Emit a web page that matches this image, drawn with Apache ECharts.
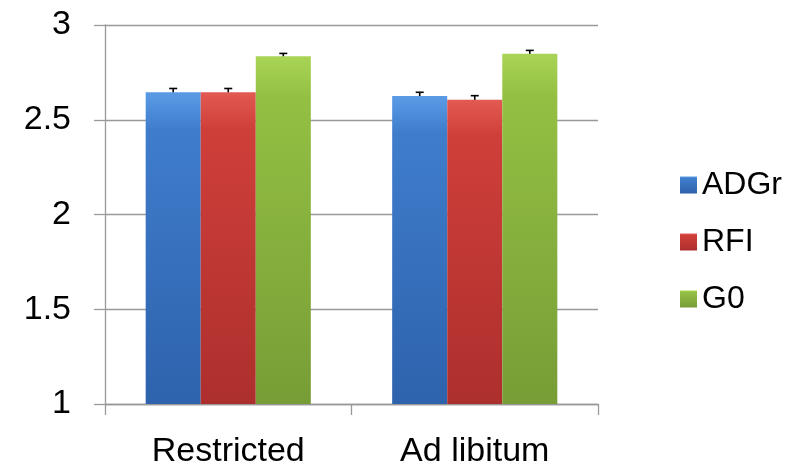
<!DOCTYPE html>
<html><head><meta charset="utf-8">
<script src="https://cdn.jsdelivr.net/npm/echarts@6/dist/echarts.min.js"></script>
<style>html,body{margin:0;padding:0;background:#fff}#c{width:800px;height:465px}</style>
</head><body><div id="c"></div>
<script>
const categories = ['Restricted', 'Ad libitum'];
const seriesNames = ['ADGr', 'RFI', 'G0'];
const adgr = [2.645, 2.625];
const rfi = [2.645, 2.605];
const g0 = [2.835, 2.848];
const adgrErr = [0.02, 0.02];
const rfiErr = [0.02, 0.022];
const g0Err = [0.015, 0.018];
const yTicks = [1, 1.5, 2, 2.5, 3];

const values = [adgr, rfi, g0];
const errs = [adgrErr, rfiErr, g0Err];
const grads = [
  ['#5b9be6', '#3f7dcc', '#2e62ad'],
  ['#e25a52', '#cf3f3a', '#ad2f2d'],
  ['#a9d455', '#93c043', '#779d36']
];
const FONT = 'Liberation Sans, Arial, sans-serif';
const gapRatio = 0.33;

const chart = echarts.init(document.getElementById('c'), null, {renderer: 'canvas'});
const series = [];
values.forEach((v, i) => {
  series.push({
    name: seriesNames[i], type: 'bar', data: v,
    barGap: '0%', barCategoryGap: '33%',
    itemStyle: {
      color: new echarts.graphic.LinearGradient(0, 0, 0, 1, [
        {offset: 0, color: grads[i][0]}, {offset: 0.12, color: grads[i][1]}, {offset: 1, color: grads[i][2]}
      ])
    },
    z: 2
  });
});
values.forEach((v, i) => {
  series.push({
    type: 'custom', name: seriesNames[i] + ' err',
    data: v.map((val, k) => [k, val, errs[i][k]]),
    z: 5,
    renderItem: function (params, api) {
      const k = api.value(0), val = api.value(1), e = api.value(2);
      const band = api.size([1, 0])[0];
      const bw = band * (1 - gapRatio) / 3;
      const c = api.coord([k, val]);
      const x = c[0] - band * (1 - gapRatio) / 2 + bw * (i + 0.5);
      const top = api.coord([k, val + e])[1];
      const style = {stroke: '#000', lineWidth: 1.6};
      return {type: 'group', children: [
        {type: 'line', shape: {x1: x, y1: c[1], x2: x, y2: top}, style: style},
        {type: 'line', shape: {x1: x - 4, y1: top, x2: x + 4, y2: top}, style: style}
      ]};
    },
    silent: true
  });
});

chart.setOption({
  animation: false,
  grid: {left: 105, right: 202, top: 25, bottom: 61, containLabel: false, outerBoundsMode: 'none'},
  legend: {
    orient: 'vertical', left: 675, top: 164,
    data: seriesNames, icon: 'rect', itemWidth: 17, itemHeight: 17, itemGap: 25,
    textStyle: {fontFamily: FONT, fontSize: 32, color: '#000', padding: [0, 0, 0, 0]}
  },
  xAxis: {
    type: 'category', data: categories,
    axisLine: {lineStyle: {color: '#999', width: 1.3}},
    axisTick: {show: true, length: 11, lineStyle: {color: '#999', width: 1.3}},
    axisLabel: {fontFamily: FONT, fontSize: 34, color: '#000', margin: 31}
  },
  yAxis: {
    type: 'value', min: 1, max: 3, interval: 0.5,
    axisLine: {show: true, lineStyle: {color: '#999', width: 1.3}},
    axisTick: {show: true, inside: false, length: 11, lineStyle: {color: '#999', width: 1.3}},
    splitLine: {lineStyle: {color: '#999', width: 1.3}},
    axisLabel: {fontFamily: FONT, fontSize: 34, color: '#000', margin: 34,
      formatter: v => yTicks.indexOf(v) >= 0 ? String(v) : ''}
  },
  series: series
});
</script></body></html>
